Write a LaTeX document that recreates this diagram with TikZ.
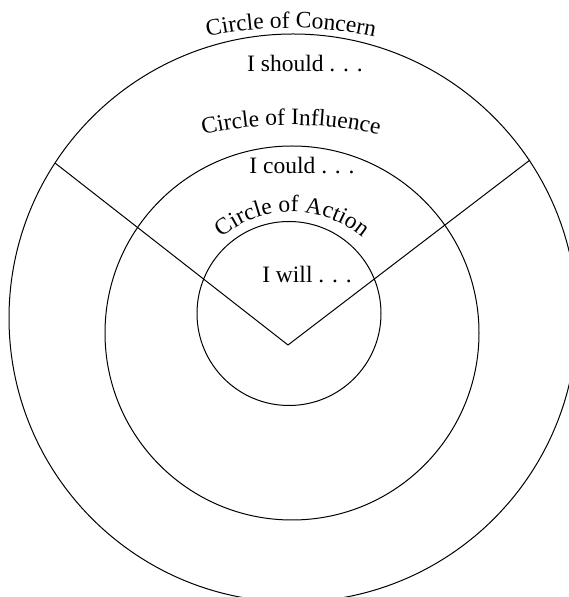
\documentclass[tikz,border=0pt]{standalone}
\usepackage{fontspec}
\setmainfont{Liberation Serif}
\usetikzlibrary{decorations.text}
\begin{document}
\begin{tikzpicture}[x=1pt,y=1pt,
  ring/.style={draw, circle, line width=1pt, inner sep=0pt},
  ray/.style={line width=1pt},
  lbl/.style={font=\fontsize{23.5}{27}\selectfont, inner sep=0pt, anchor=base},
  arctext/.style={decorate, decoration={text along path, text align=center, text={|\fontsize{23.5}{27}\selectfont|#1}}}
  ]
\useasboundingbox (0,0) rectangle (569,597);
\clip (0,0) rectangle (569,597);
\node[ring, minimum size=568pt] (outer) at (293,279) {};
\node[ring, minimum size=374pt] (middle) at (292,264) {};
\node[ring, minimum size=184pt] (inner) at (289,283.5) {};
\coordinate (apex) at (288,252);
\coordinate (lend) at (55,434);
\coordinate (rend) at (530,437);
\draw[ray] (lend) -- (apex) -- (rend);
\node[lbl] (should) at (305,525) {I should . . .};
\node[lbl] (could) at (302,423) {I could . . .};
\node[lbl] (will) at (307,314) {I will . . .};
\path[arctext={Circle of Concern}] (291,169) ++(120:400) arc[start angle=120, end angle=60, radius=400];
\path[arctext={Circle of Influence}] (291,82) ++(115:390) arc[start angle=115, end angle=65, radius=390];
\path[arctext={Circle of Action}] (292,275) ++(140:110) arc[start angle=140, end angle=40, radius=110];
\end{tikzpicture}
\end{document}
